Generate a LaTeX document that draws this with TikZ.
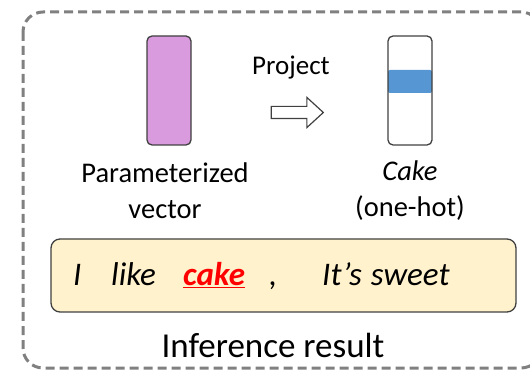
\documentclass[tikz,border=0pt]{standalone}
\usepackage{fontspec}
\setmainfont{Carlito}
\definecolor{vecpurple}{RGB}{217,154,222}
\definecolor{hotblue}{RGB}{86,150,210}
\definecolor{resyellow}{RGB}{255,242,204}
\definecolor{dashgray}{RGB}{128,128,128}
\definecolor{edgegray}{RGB}{64,64,64}
\usetikzlibrary{shapes.arrows,positioning}

\begin{document}
\begin{tikzpicture}[
  x=1pt,y=-1pt,
  every node/.style={font=\fontsize{28.5}{36}\selectfont},
  barbox/.style={draw=edgegray,line width=1.3pt,rounded corners=5pt,
                 minimum width=44pt,minimum height=109pt,inner sep=0pt},
  word/.style={anchor=base west,inner sep=0pt,font=\fontsize{33}{40}\selectfont\itshape},
]
  \useasboundingbox (0,0) rectangle (530,371);

  % Outer frame
  \draw[dashgray,line width=3pt,dash pattern=on 9pt off 5pt,rounded corners=20pt]
    (23,12) rectangle (541,368);

  % Parameterized vector
  \node[barbox,fill=vecpurple] (vec) at (169,90.5) {};
  \node[align=center] (veclabel) at (165,191) {Parameterized\\vector};

  % Projection
  \node[font=\fontsize{27}{34}\selectfont] (proj) at (291,68) {Project};
  \node[single arrow,draw=edgegray,line width=1.2pt,fill=white,
        inner xsep=0pt,inner ysep=5.5pt,minimum height=52pt,
        single arrow head extend=9pt,single arrow tip angle=85,
        single arrow head indent=0pt] (arrow) at (294,112.5) {};

  % One-hot vector
  \node[fill=hotblue,minimum width=44pt,minimum height=23pt,inner sep=0pt,
        rounded corners=2pt] (band) at (410,81.5) {};
  \node[barbox] (onehot) at (410,90.5) {};
  \node[align=center] (hotlabel) at (410,191) {\textit{Cake}\\(one-hot)};

  % Inference result
  \node[draw=edgegray,line width=1.3pt,fill=resyellow,rounded corners=9pt,
        minimum width=465pt,minimum height=73pt] (result) at (283.5,275.5) {};
  \node[word] (wi) at (73,286) {I};
  \node[word] (wlike) at (111,286) {like};
  \node[word,text=red] (wcake) at (183,286) {\textbf{\underline{cake}}};
  \node[word] (wcomma) at (269,286) {,};
  \node[word] (wsweet) at (322,286) {It’s\hspace{9pt}sweet};
  \node[anchor=base,inner sep=0pt,font=\fontsize{35}{42}\selectfont] (caption)
    at (273,357) {Inference result};
\end{tikzpicture}
\end{document}
